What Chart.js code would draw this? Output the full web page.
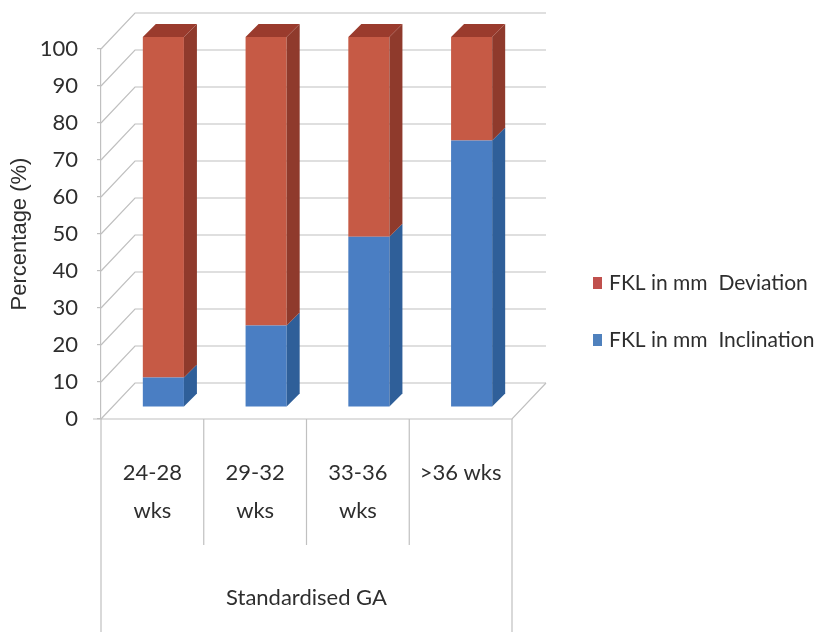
<!DOCTYPE html>
<html>
<head>
<meta charset="utf-8">
<script src="https://cdn.jsdelivr.net/npm/chart.js@4.4.1/dist/chart.umd.min.js"></script>
<style>
  html, body { margin: 0; padding: 0; background: #fff; }
  #wrap { width: 820px; height: 632px; }
</style>
</head>
<body>
<div id="wrap"><canvas id="fklChart" width="820" height="632"></canvas></div>
<script>
// data
const gaGroups = [['24-28', 'wks'], ['29-32', 'wks'], ['33-36', 'wks'], '>36 wks']
const inclinationPct = [8, 22, 46, 72]
const deviationPct = [92, 78, 54, 28]
const percentTicks = [0, 10, 20, 30, 40, 50, 60, 70, 80, 90, 100]

const narrow = "Lato, 'Open Sans', sans-serif"
const textColor = '#2e2e2e'
const gridColor = '#c0c0c0'

// 3d look: back wall offset, bar offset and bar depth
const WALL_DX = 34, WALL_DY = -36
const BAR_DX = 11, BAR_DY = -12
const DEPTH_X = 13, DEPTH_Y = -13

const frontColors = ['#4a7ec3', '#c65a45']
const sideColors = ['#2f5f99', '#8f3a2c']
const topColors = ['#3b6cab', '#9a3b2d']
const legendColors = ['#4f81bd', '#c0504d']

const depthPlugin = {
    id: 'depth3d',
    beforeDatasetsDraw (chart) {
        const {ctx, chartArea, scales: {y}} = chart
        const left = chartArea.left
        const right = chartArea.right
        ctx.save()
        ctx.strokeStyle = gridColor
        ctx.lineWidth = 1.2
        percentTicks.forEach(v => {
            const py = y.getPixelForValue(v)
            ctx.beginPath()
            ctx.moveTo(left, py)
            ctx.lineTo(left + WALL_DX, py + WALL_DY)
            ctx.lineTo(right + WALL_DX, py + WALL_DY)
            ctx.stroke()
        })
        const p0 = y.getPixelForValue(0)
        ctx.beginPath()
        ctx.moveTo(right + WALL_DX, p0 + WALL_DY)
        ctx.lineTo(right, p0)
        ctx.lineTo(left - 8, p0)
        ctx.stroke()
        ctx.restore()

        // bars sit a bit behind the front plane
        ctx.save()
        ctx.translate(BAR_DX, BAR_DY)
    },
    afterDatasetsDraw (chart) {
        const ctx = chart.ctx
        const metas = chart.getSortedVisibleDatasetMetas()
        metas.forEach((meta, i) => {
            const isTop = i === metas.length - 1
            meta.data.forEach(bar => {
                const {x, y, base, width} = bar.getProps(['x', 'y', 'base', 'width'], true)
                const l = x - width / 2
                const r = x + width / 2
                ctx.fillStyle = sideColors[meta.index]
                ctx.beginPath()
                ctx.moveTo(r, y)
                ctx.lineTo(r + DEPTH_X, y + DEPTH_Y)
                ctx.lineTo(r + DEPTH_X, base + DEPTH_Y)
                ctx.lineTo(r, base)
                ctx.closePath()
                ctx.fill()
                if (isTop) {
                    ctx.fillStyle = topColors[meta.index]
                    ctx.beginPath()
                    ctx.moveTo(l, y)
                    ctx.lineTo(l + DEPTH_X, y + DEPTH_Y)
                    ctx.lineTo(r + DEPTH_X, y + DEPTH_Y)
                    ctx.lineTo(r, y)
                    ctx.closePath()
                    ctx.fill()
                }
            })
        })
        ctx.restore()
    },
    afterDraw (chart) {
        const {ctx, chartArea, scales: {x, y}} = chart
        const p0 = y.getPixelForValue(0)
        ctx.save()
        ctx.strokeStyle = gridColor
        ctx.lineWidth = 1.2
        // category box under the floor
        for (let i = 0; i <= gaGroups.length; i++) {
            let px
            if (i === 0) px = chartArea.left
            else if (i === gaGroups.length) px = chartArea.right
            else px = (x.getPixelForValue(i - 1) + x.getPixelForValue(i)) / 2
            const outer = i === 0 || i === gaGroups.length
            ctx.beginPath()
            ctx.moveTo(px, p0)
            ctx.lineTo(px, outer ? chart.height : 545)
            ctx.stroke()
        }

        // legend, top series first
        ctx.font = '21px ' + narrow
        ctx.textBaseline = 'middle'
        ctx.textAlign = 'left'
        const ds = chart.data.datasets
        for (let k = ds.length - 1, row = 0; k >= 0; k--, row++) {
            const ly = 283 + row * 57
            ctx.fillStyle = legendColors[k]
            ctx.fillRect(chartArea.right + 81, ly - 6, 9, 12)
            ctx.fillStyle = textColor
            ctx.fillText(ds[k].label, chartArea.right + 97, ly)
        }
        ctx.restore()
    }
}

new Chart(document.getElementById('fklChart'), {
    type: 'bar',
    data: {
        labels: gaGroups,
        datasets: [
            {
                label: 'FKL in mm  Inclination',
                data: inclinationPct,
                backgroundColor: frontColors[0],
                borderWidth: 0,
            }, {
                label: 'FKL in mm  Deviation',
                data: deviationPct,
                backgroundColor: frontColors[1],
                borderWidth: 0,
            }],
    },
    options: {
        responsive: false,
        devicePixelRatio: 1,
        animation: false,
        layout: {
            padding: {top: 49, right: 308, bottom: 0, left: 0}
        },
        datasets: {
            bar: {
                barPercentage: 0.4,
                categoryPercentage: 1,
                clip: false,
            }
        },
        plugins: {
            legend: {display: false},
            tooltip: {enabled: false},
        },
        scales: {
            x: {
                stacked: true,
                afterFit: scale => { scale.height = 213 },
                grid: {display: false},
                border: {display: false},
                ticks: {
                    color: textColor,
                    padding: 27,
                    maxRotation: 0,
                    autoSkip: false,
                    font: {family: narrow, size: 22, lineHeight: 1.73},
                },
                title: {
                    display: true,
                    text: 'Standardised GA',
                    color: textColor,
                    font: {family: narrow, size: 22},
                    padding: {top: 0, bottom: 21},
                },
            },
            y: {
                stacked: true,
                min: 0,
                max: 100,
                afterFit: scale => { scale.width = 101 },
                afterBuildTicks: scale => {
                    scale.ticks = percentTicks.map(v => ({value: v}))
                },
                grid: {
                    drawOnChartArea: false,
                    drawTicks: true,
                    tickLength: 4,
                    color: gridColor,
                    lineWidth: 1.2,
                },
                border: {display: true, color: gridColor, width: 1.2},
                ticks: {
                    color: textColor,
                    padding: 19,
                    font: {family: narrow, size: 22},
                },
                title: {
                    display: true,
                    text: 'Percentage (%)',
                    color: textColor,
                    font: {family: "'Liberation Sans', Arial, sans-serif", size: 22},
                    padding: {top: 7, bottom: 0},
                },
            },
        },
    },
    plugins: [depthPlugin],
})
</script>
</body>
</html>
